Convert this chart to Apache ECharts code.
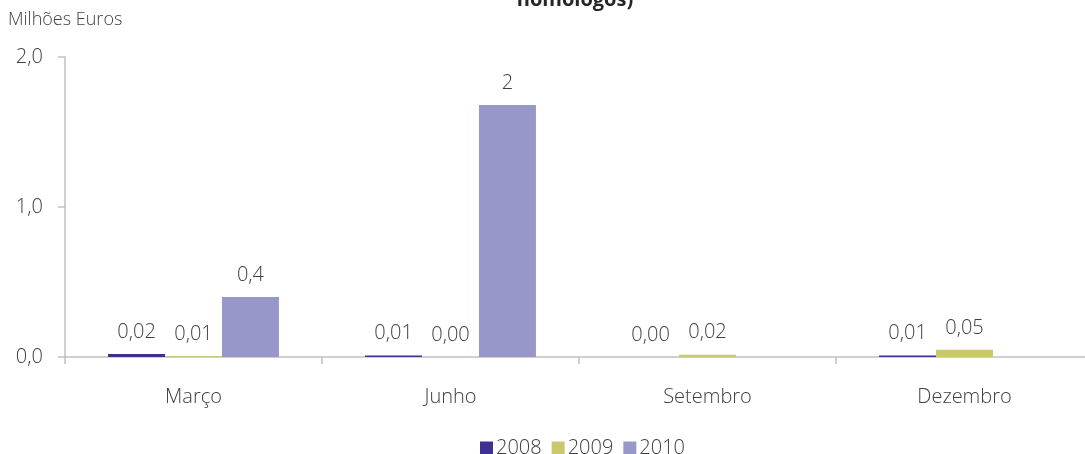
<!DOCTYPE html>
<html><head><meta charset="utf-8">
<script src="https://cdn.jsdelivr.net/npm/echarts@6/dist/echarts.min.js"></script>
<style>html,body{margin:0;padding:0;background:#fff}#c{width:1085px;height:454px}</style>
</head><body><div id="c"></div>
<script>
const categories = ['Março', 'Junho', 'Setembro', 'Dezembro'];
const seriesNames = ['2008', '2009', '2010'];
const values2008 = [0.02, 0.01, 0, 0.01];
const values2009 = [0.005, 0, 0.015, 0.048];
const values2010 = [0.40, 1.68, null, null];
const labels2008 = ['0,02', '0,01', '0,00', '0,01'];
const labels2009 = ['0,01', '0,00', '0,02', '0,05'];
const labels2010 = ['0,4', '2', '', ''];
const yTicks = [0, 1, 2];
const colors = ['#3f3194', '#c9c96b', '#9797c9'];
const FONT = '"Open Sans", "Noto Sans", sans-serif';
const TXT = '#404040';

const allValues = [values2008, values2009, values2010];
const allLabels = [labels2008, labels2009, labels2010];

const chart = echarts.init(document.getElementById('c'), null, {renderer: 'canvas'});
chart.setOption({
  animation: false,
  textStyle: {fontFamily: FONT},
  graphic: [
    {type: 'text', left: 8, top: 11, style: {text: 'Milhões Euros', fontSize: 18, fontWeight: 300, fill: TXT, fontFamily: FONT}},
    {type: 'text', x: 575, y: 0, style: {text: 'homólogos)', fontSize: 20, fontWeight: 'bold', fill: '#262626', fontFamily: FONT, textAlign: 'center', textVerticalAlign: 'middle'}}
  ],
  legend: {
    data: seriesNames, left: 480, top: 438, padding: 0, itemWidth: 13, itemHeight: 13, itemGap: 10,
    icon: 'rect', textStyle: {fontSize: 20, fontWeight: 300, color: TXT, fontFamily: FONT, padding: [0, 0, 0, -2]}
  },
  grid: {left: 65, width: 1028, top: 57, height: 300, containLabel: false, outerBoundsMode: 'none'},
  xAxis: {
    type: 'category', data: categories,
    axisLine: {lineStyle: {color: '#c0c0c0', width: 1.5}},
    axisTick: {show: true, alignWithLabel: false, length: 7, lineStyle: {color: '#c0c0c0', width: 1.5}},
    axisLabel: {fontSize: 20, fontWeight: 300, color: TXT, margin: 30, fontFamily: FONT}
  },
  yAxis: {
    type: 'value', min: yTicks[0], max: yTicks[yTicks.length - 1], interval: 1,
    splitLine: {show: false},
    axisLine: {show: true, lineStyle: {color: '#c0c0c0', width: 1.5}},
    axisTick: {show: true, length: 7, lineStyle: {color: '#c0c0c0', width: 1.5}},
    axisLabel: {fontSize: 20, fontWeight: 300, color: TXT, margin: 22, fontFamily: FONT,
      formatter: v => v.toFixed(1).replace('.', ',')}
  },
  series: seriesNames.map((name, i) => ({
    name, type: 'bar', barGap: '0%', barCategoryGap: '33.5%',
    itemStyle: {color: colors[i]},
    data: allValues[i],
    label: {
      show: true, position: 'top', distance: 12,
      fontSize: 20, fontWeight: 300, color: TXT, fontFamily: FONT,
      formatter: p => allLabels[i][p.dataIndex]
    }
  }))
});
</script></body></html>
